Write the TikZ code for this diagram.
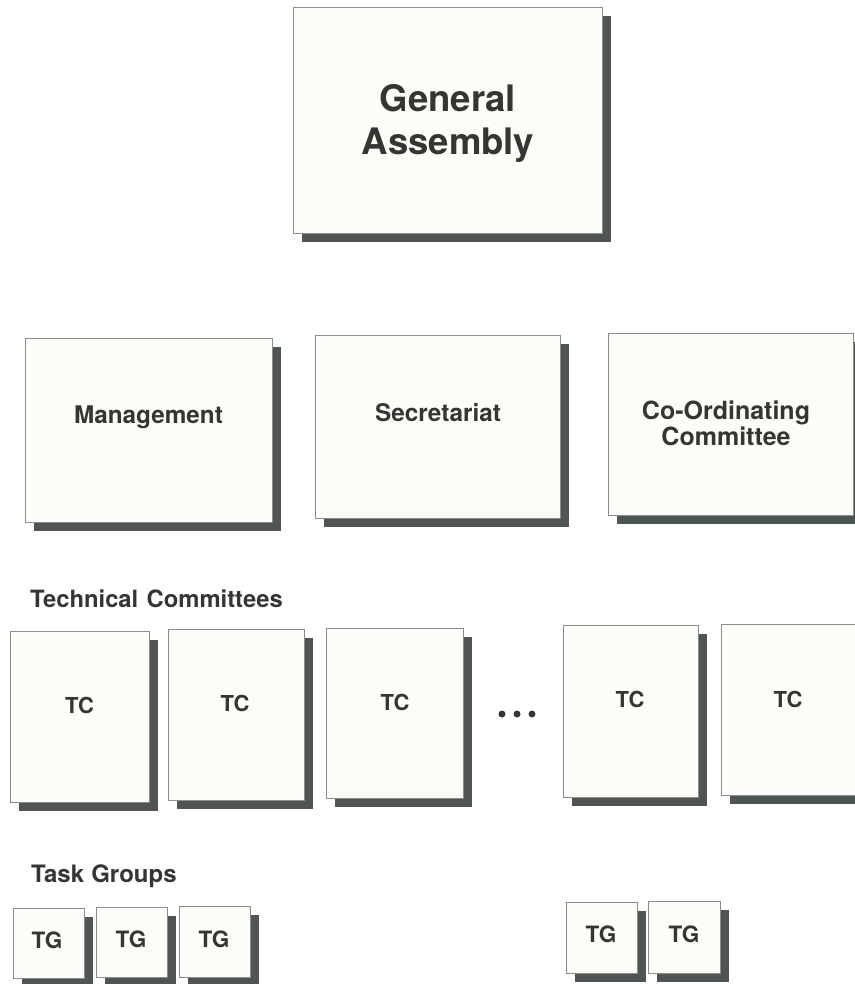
\documentclass[tikz,border=0pt]{standalone}
\usepackage{fontspec}
\setmainfont{TeX Gyre Heros}
\usepackage{tikz}
\usetikzlibrary{shadows}

\definecolor{paper}{RGB}{252,252,248}
\definecolor{shade}{RGB}{78,85,82}
\definecolor{ink}{RGB}{52,54,52}
\definecolor{rim}{RGB}{140,140,138}

\tikzset{
  panel/.style={rectangle, draw=rim, line width=0.6pt, fill=paper, inner sep=0pt,
    drop shadow={shadow xshift=9pt, shadow yshift=-9pt, opacity=1, fill=shade}},
  word/.style={text=ink, font=\bfseries, inner sep=0pt},
  dot/.style={circle, fill=ink, inner sep=0pt, minimum size=7pt}
}

\begin{document}
\begin{tikzpicture}[x=1pt, y=-1pt]
    \useasboundingbox (0,0) rectangle (854,984);

    % Top level
    \node (ga) at (447.5,120) [panel, minimum width=309pt, minimum height=226pt] {};
    \node (gatext) at (448,155) [word, anchor=base, align=center,
        font=\fontsize{36.5}{43}\selectfont\bfseries] {General\\Assembly};

    % Second row
    \node (mgmt) at (148.5,430) [panel, minimum width=247pt, minimum height=184pt] {};
    \node (secr) at (437.5,426.5) [panel, minimum width=245pt, minimum height=183pt] {};
    \node (coord) at (730.5,424) [panel, minimum width=245pt, minimum height=182pt] {};
    \node (mgmttext) at (148.5,423) [word, anchor=base, font=\fontsize{24.3}{28}\selectfont\bfseries] {Management};
    \node (secrtext) at (438,421) [word, anchor=base, font=\fontsize{24.3}{28}\selectfont\bfseries] {Secretariat};
    \node (coordtext) at (726,445) [word, anchor=base, align=center,
        font=\fontsize{25}{26}\selectfont\bfseries] {Co-Ordinating\\Committee};

    % Technical committees
    \node (tchead) at (30,607) [word, anchor=base west, font=\fontsize{23.8}{28}\selectfont\bfseries] {Technical\hspace{0.35em}Committees};
    \node (tc1) at (79.5,716.5) [panel, minimum width=139pt, minimum height=171pt] {};
    \node (tc2) at (236,714.5) [panel, minimum width=136pt, minimum height=171pt] {};
    \node (tc3) at (394.5,713) [panel, minimum width=137pt, minimum height=170pt] {};
    \node (tc4) at (630.5,711) [panel, minimum width=135pt, minimum height=172pt] {};
    \node (tc5) at (789,709.5) [panel, minimum width=136pt, minimum height=171pt] {};
    \node (tc1text) at (79.5,713) [word, anchor=base, font=\fontsize{22}{26}\selectfont\bfseries] {TC};
    \node (tc2text) at (235,711) [word, anchor=base, font=\fontsize{22}{26}\selectfont\bfseries] {TC};
    \node (tc3text) at (395,710) [word, anchor=base, font=\fontsize{22}{26}\selectfont\bfseries] {TC};
    \node (tc4text) at (630,707) [word, anchor=base, font=\fontsize{22}{26}\selectfont\bfseries] {TC};
    \node (tc5text) at (788,707) [word, anchor=base, font=\fontsize{22}{26}\selectfont\bfseries] {TC};
    \node (dot1) at (502,714) [dot] {};
    \node (dot2) at (517,714) [dot] {};
    \node (dot3) at (532,714) [dot] {};

    % Task groups
    \node (tghead) at (31,882) [word, anchor=base west, font=\fontsize{24}{28}\selectfont\bfseries] {Task\hspace{0.3em}Groups};
    \node (tg1) at (48.5,943) [panel, minimum width=71pt, minimum height=70pt] {};
    \node (tg2) at (131.5,942) [panel, minimum width=71pt, minimum height=70pt] {};
    \node (tg3) at (214.5,941.5) [panel, minimum width=71pt, minimum height=71pt] {};
    \node (tg4) at (601.5,937.5) [panel, minimum width=71pt, minimum height=71pt] {};
    \node (tg5) at (684,937) [panel, minimum width=72pt, minimum height=72pt] {};
    \node (tg1text) at (47,948) [word, anchor=base, font=\fontsize{22.5}{26}\selectfont\bfseries] {TG};
    \node (tg2text) at (131,947) [word, anchor=base, font=\fontsize{22.5}{26}\selectfont\bfseries] {TG};
    \node (tg3text) at (214,947) [word, anchor=base, font=\fontsize{22.5}{26}\selectfont\bfseries] {TG};
    \node (tg4text) at (601,942) [word, anchor=base, font=\fontsize{22.5}{26}\selectfont\bfseries] {TG};
    \node (tg5text) at (684,942) [word, anchor=base, font=\fontsize{22.5}{26}\selectfont\bfseries] {TG};
\end{tikzpicture}
\end{document}
